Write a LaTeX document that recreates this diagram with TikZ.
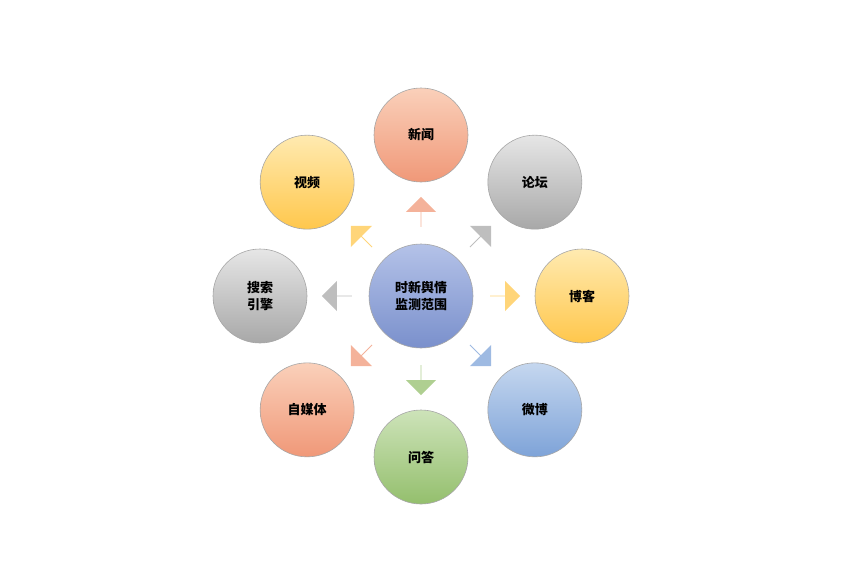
\documentclass[tikz,border=0pt]{standalone}
\usepackage{fontspec}
\newfontfamily\cjk{Noto Sans CJK SC}
\usetikzlibrary{shapes.arrows}
\definecolor{oT}{HTML}{FAD0BA}\definecolor{oB}{HTML}{F09878}
\definecolor{gT}{HTML}{E6E6E6}\definecolor{gB}{HTML}{A8A8A8}
\definecolor{yT}{HTML}{FFEAB0}\definecolor{yB}{HTML}{FFC74C}
\definecolor{bT}{HTML}{C5D7EF}\definecolor{bB}{HTML}{7EA3D8}
\definecolor{grT}{HTML}{CDE3B9}\definecolor{grB}{HTML}{94BF6D}
\definecolor{cT}{HTML}{B4C2E8}\definecolor{cB}{HTML}{7A90CC}
\tikzset{
 outer/.style={circle,minimum size=94pt,inner sep=0pt,draw=gray!70,line width=0.6pt,align=center,font=\cjk\bfseries\fontsize{13pt}{17pt}\selectfont},
 arr/.style={single arrow,inner sep=0pt,minimum height=30pt,minimum width=30pt,single arrow head extend=7pt,draw=none},
}
\begin{document}
\begin{tikzpicture}[x=1pt,y=-1pt]
\useasboundingbox (0,0) rectangle (850,582);
\node[outer,minimum size=104pt,top color=cT,bottom color=cB] (c) at (421,296) {时新舆情\\监测范围};
\foreach \n/\ang/\t/\tc/\bc in {
 xw/90/新闻/oT/oB,
 lt/45/论坛/gT/gB,
 bk/0/博客/yT/yB,
 wb/-45/微博/bT/bB,
 wd/-90/问答/grT/grB,
 zm/-135/自媒体/oT/oB,
 ss/180/搜索\\引擎/gT/gB,
 sp/135/视频/yT/yB}{
 \node[outer,top color=\tc,bottom color=\bc] (\n) at ({421+161*cos(\ang)},{296-161*sin(\ang)}) {\t};
 \node[arr,fill=\bc!75,rotate=\ang] (a\n) at ({421+84*cos(\ang)},{296-84*sin(\ang)}) {};
}
\end{tikzpicture}
\end{document}
